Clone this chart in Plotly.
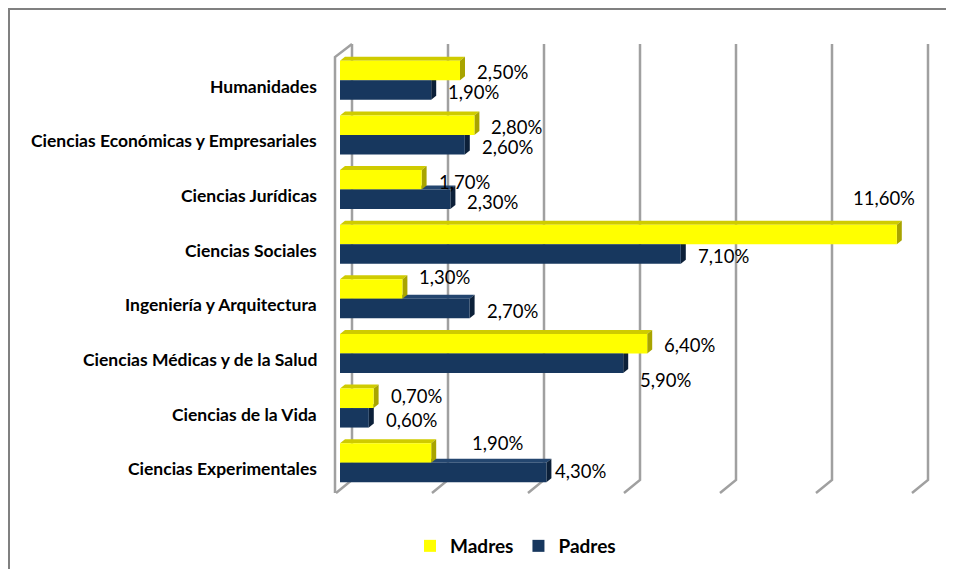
import plotly.graph_objects as go

# ---- data ----
categories = [
    "Humanidades",
    "Ciencias Económicas y Empresariales",
    "Ciencias Jurídicas",
    "Ciencias Sociales",
    "Ingeniería y Arquitectura",
    "Ciencias Médicas y de la Salud",
    "Ciencias de la Vida",
    "Ciencias Experimentales",
]
madres = [2.5, 2.8, 1.7, 11.6, 1.3, 6.4, 0.7, 1.9]
padres = [1.9, 2.6, 2.3, 7.1, 2.7, 5.9, 0.6, 4.3]
series_names = ["Madres", "Padres"]
grid_ticks = [0, 2, 4, 6, 8, 10, 12]

# ---- style ----
PAGE_OFF = 8                     # browser body margin
W, H = 954 - 2 * PAGE_OFF, 577 - 2 * PAGE_OFF
ML, MT = 332, 45
XMAX = 12.5
PLOT_W = 600
PLOT_H = 437
MR = W - ML - PLOT_W
MB = H - MT - PLOT_H
PX_PER_UNIT = PLOT_W / XMAX      # 48 px per 1 %
ROW_PX = PLOT_H / len(categories)

YEL, YEL_TOP, YEL_SIDE = "#FFFF00", "#CFCB00", "#A8A400"
NAV, NAV_TOP, NAV_SIDE = "#17375E", "#24466F", "#0C2039"
GRID = "#A0A0A0"
FONT = "Lato"

BAR_T = 0.357          # bar thickness in row units
DEPTH_X = 5 / PX_PER_UNIT
DEPTH_Y = 4 / ROW_PX

ypos = list(range(len(categories)))


def fmt(v):
    return f"{v:.2f}".replace(".", ",") + "%"


def px_x(px):      # page pixel -> paper x
    return (px - PAGE_OFF - ML) / PLOT_W


def px_y(py):      # page pixel -> paper y
    return (H - MB - (py - PAGE_OFF)) / PLOT_H


def val_x(v, off_px=0):   # value + pixel offset -> paper x
    return (v * PX_PER_UNIT + off_px) / PLOT_W


fig = go.Figure()
fig.add_trace(go.Bar(
    y=ypos, x=madres, orientation="h", name=series_names[0],
    marker=dict(color=YEL, line=dict(width=0)),
    width=BAR_T, offset=-BAR_T, hoverinfo="x+name",
))
fig.add_trace(go.Bar(
    y=ypos, x=padres, orientation="h", name=series_names[1],
    marker=dict(color=NAV, line=dict(width=0)),
    width=BAR_T, offset=0, hoverinfo="x+name",
))

shapes = []
# outer frame: left and top edges only
shapes.append(dict(type="line", xref="paper", yref="paper",
                   x0=px_x(9), x1=px_x(9), y0=px_y(600), y1=px_y(8),
                   line=dict(color="#808080", width=2), layer="below"))
shapes.append(dict(type="line", xref="paper", yref="paper",
                   x0=px_x(8), x1=px_x(960), y0=px_y(9), y1=px_y(9),
                   line=dict(color="#808080", width=2), layer="below"))

# 3D gridlines: back wall verticals with slanted floor segments
BACK_OFF, FRONT_OFF = 12, -4
for t in grid_ticks:
    xb = val_x(t, BACK_OFF)
    xf = val_x(t, FRONT_OFF)
    shapes.append(dict(type="path", xref="paper", yref="paper",
                       path=f"M {xb},{px_y(44)} L {xb},{px_y(480)} L {xf},{px_y(493)}",
                       line=dict(color=GRID, width=2.5), layer="below"))
# left wall edge
xl = val_x(0, -5)
shapes.append(dict(type="path", xref="paper", yref="paper",
                   path=f"M {val_x(0, BACK_OFF)},{px_y(44)} L {xl},{px_y(57)} L {xl},{px_y(493)}",
                   line=dict(color=GRID, width=2.5), layer="below"))

# 3D faces of bars (navy first, yellow after)
def faces(vals, top_off, top_col, side_col):
    out = []
    for i, v in zip(ypos, vals):
        y_top = i + top_off
        y_bot = y_top + BAR_T
        top = (f"M 0,{y_top} L {v},{y_top} L {v + DEPTH_X},{y_top - DEPTH_Y} "
               f"L {DEPTH_X},{y_top - DEPTH_Y} Z")
        side = (f"M {v},{y_bot} L {v},{y_top} L {v + DEPTH_X},{y_top - DEPTH_Y} "
                f"L {v + DEPTH_X},{y_bot - DEPTH_Y} Z")
        out.append(dict(type="path", xref="x", yref="y", path=top,
                        fillcolor=top_col, line=dict(width=0), layer="between"))
        out.append(dict(type="path", xref="x", yref="y", path=side,
                        fillcolor=side_col, line=dict(width=0), layer="between"))
    return out

shapes += faces(padres, 0, NAV_TOP, NAV_SIDE)
shapes += faces(madres, -BAR_T, YEL_TOP, YEL_SIDE)

annotations = []
# category labels
for i, c in zip(ypos, categories):
    annotations.append(dict(text=f"<b>{c}</b>", xref="paper", yref="y",
                            x=0, y=i, xanchor="right", yanchor="middle",
                            xshift=-21, yshift=-6, showarrow=False,
                            font=dict(family=FONT, size=17.5, color="#000000")))

# data labels (pixel nudges for labels Excel moved around)
nudges = {
    ("Madres", 3): dict(xanchor="right", dx=20, dy=38),
    ("Madres", 7): dict(dx=24, dy=12),
    ("Padres", 7): dict(dx=-8, dy=4),
    ("Padres", 5): dict(dy=-15),
    ("Madres", 4): dict(dy=14),
    ("Madres", 6): dict(dy=4),
}
base_dy = {"Madres": 8, "Padres": -12}
for name, vals in zip(series_names, [madres, padres]):
    for i, v in zip(ypos, vals):
        n = nudges.get((name, i), {})
        xanchor = n.get("xanchor", "left")
        dx = n.get("dx", 0) + (15 if xanchor == "left" else 0)
        dy = n.get("dy", 0) + base_dy[name]
        annotations.append(dict(text=fmt(v), xref="x", yref="y", x=v, y=i,
                                xanchor=xanchor, yanchor="middle",
                                xshift=dx, yshift=dy, showarrow=False,
                                font=dict(family=FONT, size=18.5, color="#000000")))

fig.update_layout(
    width=W, height=H,
    margin=dict(l=ML, r=MR, t=MT, b=MB),
    paper_bgcolor="white", plot_bgcolor="white",
    barmode="overlay",
    xaxis=dict(range=[0, XMAX], visible=False, fixedrange=True),
    yaxis=dict(range=[len(categories) - 0.5, -0.5], visible=False, fixedrange=True),
    shapes=shapes,
    annotations=annotations,
    showlegend=True,
    legend=dict(orientation="h", xref="container", yref="container",
                x=(513.5 - 6) / W, y=1 - (546 - PAGE_OFF) / H, xanchor="center", yanchor="middle",
                font=dict(family=FONT, size=19, color="#000000", weight="bold"),
                itemwidth=30, traceorder="normal", bgcolor="rgba(0,0,0,0)"),
)

fig.write_html("out.html")
